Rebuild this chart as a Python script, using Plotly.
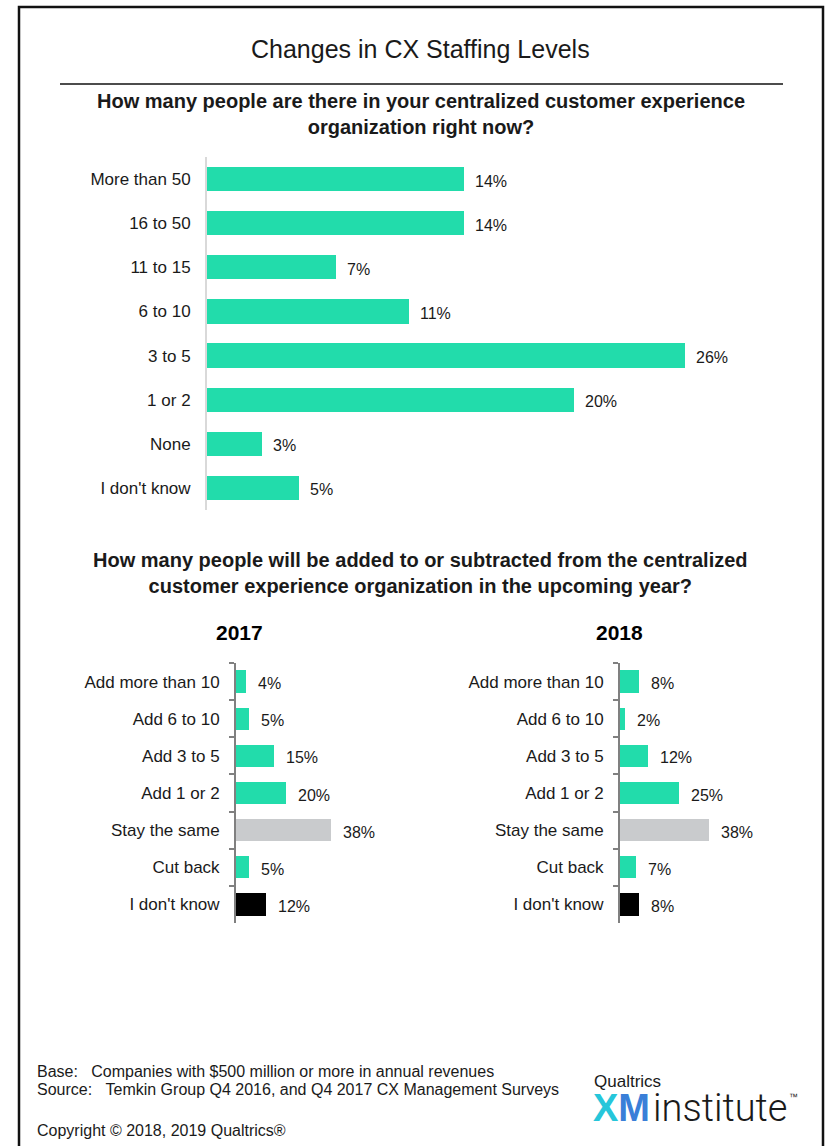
import plotly.graph_objects as go

# ---- data ----
size_categories = ["More than 50", "16 to 50", "11 to 15", "6 to 10",
                   "3 to 5", "1 or 2", "None", "I don't know"]
size_values = [14, 14, 7, 11, 26, 20, 3, 5]

change_categories = ["Add more than 10", "Add 6 to 10", "Add 3 to 5", "Add 1 or 2",
                     "Stay the same", "Cut back", "I don't know"]
change_2017 = [4, 5, 15, 20, 38, 5, 12]
change_2018 = [8, 2, 12, 25, 38, 7, 8]
panel_years = ["2017", "2018"]

TEAL = "#22dcab"
GRAY = "#c9cbcd"
BLACK = "#000000"
change_colors = [TEAL, TEAL, TEAL, TEAL, GRAY, TEAL, BLACK]

W, H = 827, 1146
FONT = "Liberation Sans, Arial, sans-serif"
TXT = "#1a1a1a"


def px_x(px):
    return px / W


def px_y(py):
    return 1 - py / H


fig = go.Figure()

# current staffing (top chart)
fig.add_trace(go.Bar(
    x=size_values, y=size_categories, orientation="h",
    marker=dict(color=TEAL, line=dict(width=0)), width=0.55,
    xaxis="x", yaxis="y", hoverinfo="skip"))

# expected changes, one panel per survey year
for i, vals in enumerate([change_2017, change_2018]):
    sfx = str(i + 2)
    fig.add_trace(go.Bar(
        x=vals, y=change_categories, orientation="h",
        marker=dict(color=change_colors, line=dict(width=0)), width=0.6,
        xaxis="x" + sfx, yaxis="y" + sfx, hoverinfo="skip"))

annotations = []

# value labels beside each bar
for cat, v in zip(size_categories, size_values):
    annotations.append(dict(x=v, y=cat, xref="x", yref="y", text=f"{v}%",
                            showarrow=False, xanchor="left", yanchor="middle",
                            xshift=9, yshift=-2,
                            font=dict(family=FONT, size=16, color=TXT)))
for i, vals in enumerate([change_2017, change_2018]):
    sfx = str(i + 2)
    for cat, v in zip(change_categories, vals):
        annotations.append(dict(x=v, y=cat, xref="x" + sfx, yref="y" + sfx,
                                text=f"{v}%", showarrow=False,
                                xanchor="left", yanchor="middle",
                                xshift=10, yshift=-2,
                                font=dict(family=FONT, size=16, color=TXT)))

# headings
annotations += [
    dict(x=px_x(421), y=px_y(49), text="Changes in CX Staffing Levels",
         font=dict(family=FONT, size=25, color=TXT)),
    dict(x=px_x(421), y=px_y(114),
         text="<b>How many people are there in your centralized customer experience"
              "<br>organization right now?</b>",
         font=dict(family=FONT, size=20, color=TXT)),
    dict(x=px_x(421), y=px_y(573),
         text="<b>How many people will be added to or subtracted from the centralized"
              "<br>customer experience organization in the upcoming year?</b>",
         font=dict(family=FONT, size=20, color=TXT)),
    dict(x=px_x(239), y=px_y(632), text=f"<b>{panel_years[0]}</b>",
         font=dict(family=FONT, size=21, color=BLACK)),
    dict(x=px_x(619), y=px_y(632), text=f"<b>{panel_years[1]}</b>",
         font=dict(family=FONT, size=21, color=BLACK)),
]
for a in annotations[-5:]:
    a.update(xref="paper", yref="paper", showarrow=False,
             xanchor="center", yanchor="middle")

# footer notes
NB = "\u00a0"
footer = [
    (px_y(1071), f"Base:{NB*3}Companies with $500 million or more in annual revenues"),
    (px_y(1089), f"Source:{NB*3}Temkin Group Q4 2016, and Q4 2017 CX Management Surveys"),
    (px_y(1130), "Copyright © 2018, 2019 Qualtrics®"),
]
for yy, t in footer:
    annotations.append(dict(x=px_x(35), y=yy, xref="paper", yref="paper",
                            text=t, showarrow=False, xanchor="left",
                            yanchor="middle",
                            font=dict(family=FONT, size=16, color=TXT)))

# logo lettering
annotations += [
    dict(x=px_x(592), y=px_y(1081), text="Qualtrics", xanchor="left",
         font=dict(family=FONT, size=17, color=TXT)),
    dict(x=px_x(591), y=px_y(1108),
         text="<b><span style='color:#26c6da'>X</span>"
              "<span style='color:#3a7fd8'>M</span></b>",
         xanchor="left", font=dict(family=FONT, size=38)),
    dict(x=px_x(651), y=px_y(1108), text="institute", xanchor="left",
         font=dict(family="Roboto, Liberation Sans, sans-serif", size=38,
                   color=TXT, weight=300)),
    dict(x=px_x(787), y=px_y(1097), text="™", xanchor="left",
         font=dict(family=FONT, size=9, color=TXT)),
]
for a in annotations[-4:]:
    a.update(xref="paper", yref="paper", showarrow=False, yanchor="middle")

shapes = [
    # frame (open at the bottom edge of the page)
    dict(type="path", xref="paper", yref="paper",
         path=f"M {px_x(19)} -0.05 L {px_x(19)} {px_y(7)} "
              f"L {px_x(823)} {px_y(7)} L {px_x(823)} -0.05",
         line=dict(color="#111111", width=2.5)),
    # rule under the title
    dict(type="line", xref="paper", yref="paper",
         x0=px_x(60), x1=px_x(783), y0=px_y(84), y1=px_y(84),
         line=dict(color="#111111", width=1.5)),
]

top_n = len(size_categories)
bot_n = len(change_categories)

change_yaxis = dict(domain=[px_y(923), px_y(663)], range=[bot_n - 0.5, -0.5],
                    type="category", showline=True, linecolor="#808080",
                    linewidth=2, ticks="outside", tickson="boundaries",
                    ticklen=5, tickcolor="#808080", tickwidth=2,
                    showgrid=False, ticklabelstandoff=11,
                    tickfont=dict(family=FONT, size=17, color=TXT))

fig.update_layout(
    width=W, height=H,
    margin=dict(l=0, r=0, t=0, b=0),
    paper_bgcolor="white", plot_bgcolor="white",
    showlegend=False, bargap=0,
    annotations=annotations, shapes=shapes,
    xaxis=dict(domain=[px_x(207), px_x(780)], range=[0, 31.2], visible=False,
               anchor="y"),
    yaxis=dict(domain=[px_y(510), px_y(157)], range=[top_n - 0.5, -0.5],
               type="category", showline=True, linecolor="#d9d9d9", linewidth=2,
               ticks="", showgrid=False, ticklabelstandoff=11, anchor="x",
               tickfont=dict(family=FONT, size=17, color=TXT)),
    xaxis2=dict(domain=[px_x(236), px_x(361)], range=[0, 50], visible=False,
                anchor="y2"),
    yaxis2=dict(change_yaxis, anchor="x2"),
    xaxis3=dict(domain=[px_x(620), px_x(737)], range=[0, 50], visible=False,
                anchor="y3"),
    yaxis3=dict(change_yaxis, anchor="x3"),
)

fig.write_html("out.html")
